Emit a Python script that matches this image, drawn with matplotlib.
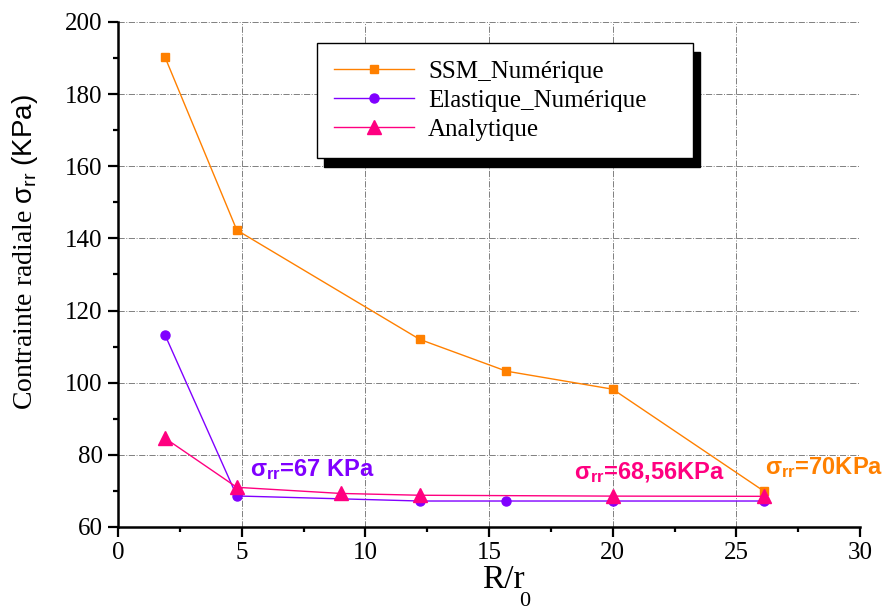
import numpy as np
import matplotlib.pyplot as plt
from matplotlib.ticker import MultipleLocator

plt.rcParams['font.family'] = 'Liberation Serif'
plt.rcParams['mathtext.fontset'] = 'custom'
plt.rcParams['mathtext.rm'] = 'Liberation Sans'
plt.rcParams['mathtext.sf'] = 'Liberation Sans'
plt.rcParams['mathtext.it'] = 'Liberation Sans:italic'
plt.rcParams['mathtext.bf'] = 'Liberation Sans:bold'

# data
ssm_x = [1.9, 4.8, 12.2, 15.7, 20.0, 26.1]
ssm_y = [190.2, 142.3, 112.0, 103.2, 98.2, 70.0]
ela_x = [1.9, 4.8, 12.2, 15.7, 20.0, 26.1]
ela_y = [113.2, 68.6, 67.2, 67.2, 67.2, 67.2]
ana_x = [1.9, 4.8, 9.0, 12.2, 20.0, 26.1]
ana_y = [84.6, 71.0, 69.3, 68.8, 68.56, 68.5]

orange = '#FF8000'
purple = '#8000FF'
pink = '#FF0080'

fig = plt.figure(figsize=(8.88, 6.11), dpi=100)
ax = fig.add_axes([0.133, 0.1375, 0.8355, 0.8265])

ax.plot(ssm_x, ssm_y, color=orange, lw=1, marker='s', ms=6, label='SSM_Numérique')
ax.plot(ela_x, ela_y, color=purple, lw=1, marker='o', ms=6.5, label='Elastique_Numérique')
ax.plot(ana_x, ana_y, color=pink, lw=1, marker='^', ms=9.5, label='Analytique')

ax.set_xlim(0, 30)
ax.set_ylim(60, 200)
ax.xaxis.set_major_locator(MultipleLocator(5))
ax.xaxis.set_minor_locator(MultipleLocator(2.5))
ax.yaxis.set_major_locator(MultipleLocator(20))
ax.yaxis.set_minor_locator(MultipleLocator(10))
ax.tick_params(which='major', direction='out', length=7, width=1.6, labelsize=18, pad=4)
ax.tick_params(which='minor', direction='out', length=3.5, width=1.6)
ax.grid(True, which='major', color='gray', ls='-.', lw=0.7)

for s in ['top', 'right']:
    ax.spines[s].set_visible(False)
for s in ['left', 'bottom']:
    ax.spines[s].set_linewidth(1.8)

# x label with a low subscript
fig.text(503 / 888, 1 - 588 / 611, 'R/r', fontsize=24, ha='center', va='baseline')
fig.text(525 / 888, 1 - 602 / 611, '0', fontsize=16, ha='center', va='center')

ax.set_ylabel(r'Contrainte radiale $\mathsf{\sigma_{rr}}$ $\mathsf{(KPa)}$', fontsize=20)
ax.yaxis.set_label_coords(-0.105, 0.545)

ax.text(5.35, 75.8, r'$\mathbf{\sigma_{rr}}$=67 KPa', color=purple, fontsize=17,
        fontweight='bold', family='Liberation Sans', va='center')
ax.text(18.45, 75.2, r'$\mathbf{\sigma_{rr}}$=68,56KPa', color=pink, fontsize=17,
        fontweight='bold', family='Liberation Sans', va='center')
ax.text(26.15, 76.4, r'$\mathbf{\sigma_{rr}}$=70KPa', color=orange, fontsize=17,
        fontweight='bold', family='Liberation Sans', va='center')

leg = ax.legend(loc='upper left', bbox_to_anchor=(0.268, 0.732, 0.507, 0.226),
                mode='expand', borderaxespad=0, fontsize=18,
                frameon=True, fancybox=False, edgecolor='black', framealpha=1,
                borderpad=0.7, handlelength=3.2, handletextpad=0.55, labelspacing=0.25,
                shadow={'color': 'black', 'alpha': 1, 'ox': 5, 'oy': -6})
leg.get_frame().set_linewidth(1.0)

fig.savefig('out.png', dpi=100)
